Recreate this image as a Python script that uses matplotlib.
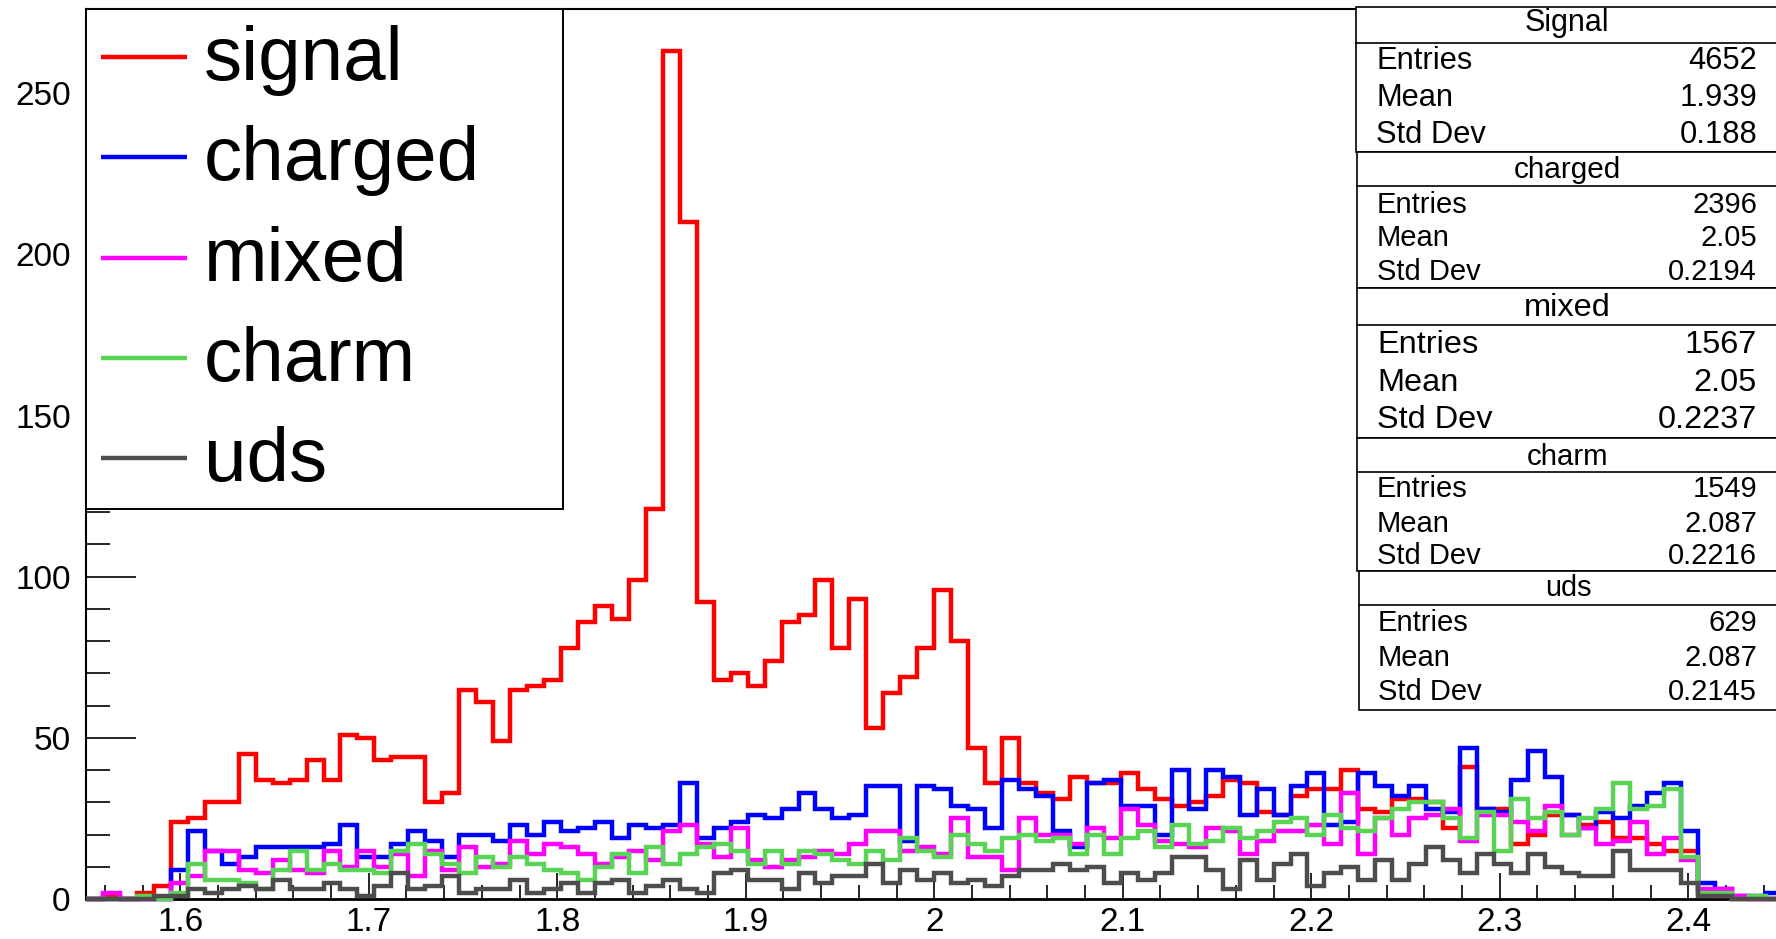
import matplotlib
matplotlib.use("Agg")
import matplotlib.pyplot as plt
import numpy as np
from matplotlib.patches import Rectangle
from matplotlib.lines import Line2D
from matplotlib.ticker import MultipleLocator, FuncFormatter

# ---------------------------------------------------------------- data
x_min, x_max, n_bins = 1.55, 2.45, 100

signal = [0, 1, 0, 2, 4, 24, 25, 30, 30, 45,
          37, 36, 37, 43, 37, 51, 50, 43, 44, 44,
          30, 33, 65, 61, 49, 65, 66, 68, 78, 86,
          91, 87, 99, 121, 263, 210, 92, 68, 70, 66,
          74, 86, 88, 99, 78, 93, 53, 64, 69, 78,
          96, 80, 47, 36, 50, 36, 33, 31, 38, 36,
          36, 39, 34, 31, 29, 30, 32, 37, 36, 27,
          26, 32, 34, 34, 40, 28, 27, 31, 31, 30,
          22, 41, 28, 28, 17, 20, 26, 26, 23, 24,
          19, 19, 17, 15, 15, 2, 1, 0, 0, 0]

charged = [0, 0, 0, 0, 0, 9, 21, 15, 11, 13,
           16, 16, 16, 16, 17, 23, 13, 13, 17, 21,
           18, 13, 20, 20, 18, 23, 20, 24, 21, 22,
           24, 19, 23, 22, 23, 36, 19, 22, 24, 26,
           25, 28, 33, 28, 25, 26, 35, 35, 18, 35,
           34, 29, 28, 22, 37, 34, 32, 21, 16, 36,
           37, 29, 29, 20, 40, 28, 40, 38, 26, 34,
           26, 35, 39, 23, 24, 39, 35, 32, 35, 28,
           27, 47, 28, 27, 37, 46, 38, 26, 22, 27,
           25, 29, 33, 36, 21, 5, 3, 1, 1, 2]

mixed = [0, 2, 0, 0, 0, 5, 7, 15, 15, 9,
         8, 12, 9, 8, 15, 10, 15, 10, 14, 7,
         15, 9, 16, 10, 11, 18, 14, 17, 16, 14,
         11, 13, 15, 12, 21, 23, 17, 13, 22, 12,
         10, 12, 13, 15, 14, 17, 21, 21, 15, 16,
         14, 25, 13, 13, 9, 25, 20, 20, 17, 22,
         19, 28, 23, 18, 17, 16, 22, 21, 14, 18,
         21, 21, 23, 17, 33, 14, 25, 20, 25, 26,
         28, 18, 26, 26, 24, 21, 29, 20, 22, 17,
         18, 24, 14, 19, 12, 3, 3, 1, 0, 0]

charm = [0, 0, 0, 1, 0, 2, 11, 6, 6, 5,
         3, 9, 15, 9, 11, 9, 9, 8, 15, 17,
         14, 11, 8, 13, 10, 13, 11, 9, 8, 6,
         10, 14, 8, 16, 11, 14, 16, 17, 15, 11,
         15, 11, 15, 14, 12, 11, 15, 12, 19, 15,
         13, 20, 17, 15, 19, 20, 18, 19, 14, 20,
         14, 19, 21, 16, 23, 17, 18, 22, 19, 21,
         24, 25, 20, 26, 22, 21, 25, 28, 30, 30,
         25, 19, 27, 15, 31, 25, 27, 20, 25, 28,
         36, 28, 29, 34, 13, 2, 2, 0, 1, 0]

uds = [0, 0, 0, 0, 1, 1, 3, 2, 3, 4,
       3, 6, 3, 3, 5, 3, 1, 4, 8, 3,
       4, 7, 2, 3, 3, 6, 2, 3, 5, 2,
       5, 6, 2, 4, 6, 3, 2, 8, 9, 6,
       6, 3, 8, 5, 7, 7, 11, 5, 9, 6,
       8, 5, 6, 4, 7, 9, 9, 11, 9, 10,
       5, 8, 6, 8, 13, 13, 9, 3, 12, 6,
       11, 14, 4, 8, 10, 6, 12, 6, 11, 16,
       12, 8, 14, 11, 8, 14, 10, 8, 7, 7,
       15, 9, 9, 9, 5, 1, 1, 0, 0, 0]

legend_names = ["signal", "charged", "mixed", "charm", "uds"]
series_colors = ["#ff0000", "#0000ff", "#ff00ff", "#59d454", "#4d4d4d"]

stat_titles = ["Signal", "charged", "mixed", "charm", "uds"]
stat_entries = ["4652", "2396", "1567", "1549", "629"]
stat_means = ["1.939", "2.05", "2.05", "2.087", "2.087"]
stat_stds = ["0.188", "0.2194", "0.2237", "0.2216", "0.2145"]

# ---------------------------------------------------------------- canvas
W, H = 1776, 939
plt.rcParams["font.family"] = ["Liberation Sans", "DejaVu Sans"]
fig = plt.figure(figsize=(W / 100, H / 100), dpi=100)
fig.patch.set_facecolor("white")


def fx(x):
    return x / W


def fy(y):
    return 1 - y / H


ax_left, ax_top, ax_bottom = 86, 9, 899
ax_right = ax_left + (x_max - x_min) / 0.1 * 188.5
ax = fig.add_axes([fx(ax_left), fy(ax_bottom),
                   fx(ax_right) - fx(ax_left), fy(ax_top) - fy(ax_bottom)])

edges = np.linspace(x_min, x_max, n_bins + 1)
for vals, col in zip([signal, charged, mixed, charm, uds], series_colors):
    ax.stairs(vals, edges, baseline=0, color=col, lw=3.2,
              zorder=3, clip_on=False)

ax.set_xlim(x_min, x_max)
ax.set_ylim(0, 1.05 * max(signal))

for side, w in [("left", 1.5), ("bottom", 2.0), ("top", 1.5)]:
    ax.spines[side].set_linewidth(w)
    ax.spines[side].set_color("black")
ax.spines["right"].set_visible(False)

fmt = FuncFormatter(lambda v, p: f"{v:g}")
ax.xaxis.set_major_locator(MultipleLocator(0.1))
ax.xaxis.set_minor_locator(MultipleLocator(0.02))
ax.yaxis.set_major_locator(MultipleLocator(50))
ax.yaxis.set_minor_locator(MultipleLocator(10))
ax.xaxis.set_major_formatter(fmt)
ax.yaxis.set_major_formatter(fmt)

ax.tick_params(axis="x", which="major", direction="in", length=18.7,
               width=1.2, labelsize=24, pad=6.0, top=False)
ax.tick_params(axis="x", which="minor", direction="in", length=10.0,
               width=1.2, top=False)
ax.tick_params(axis="y", which="major", direction="in", length=36,
               width=1.2, labelsize=24, pad=11.0, right=False)
ax.tick_params(axis="y", which="minor", direction="in", length=17.5,
               width=1.2, right=False)

# ---------------------------------------------------------------- legend
leg_l, leg_t, leg_r, leg_b = 86, 9, 563, 508.5
fig.add_artist(Rectangle((fx(leg_l), fy(leg_b)), fx(leg_r) - fx(leg_l),
                         fy(leg_t) - fy(leg_b), transform=fig.transFigure,
                         facecolor="white", edgecolor="black", lw=1.4,
                         zorder=10))
for k, (name, col) in enumerate(zip(legend_names, series_colors)):
    yl = 57 + k * 100.3
    fig.add_artist(Line2D([fx(101), fx(187)], [fy(yl), fy(yl)],
                          transform=fig.transFigure, color=col, lw=3.2,
                          solid_capstyle="butt", zorder=11))
    fig.text(fx(204), fy(yl + 23), name, fontsize=55, va="baseline",
             ha="left", color="black", zorder=11)

# ---------------------------------------------------------------- stat boxes
box_right = 1778
box_lefts = [1356, 1357, 1357, 1357, 1359]
box_tops = [7, 152, 288, 438, 571]
box_lines = [43, 185.5, 325, 472, 605]
box_bottoms = [152, 288, 438, 571, 710]
title_y = [23, 170, 308, 457, 588]
row_y = [[61, 98, 135], [205, 238, 272], [345, 383, 420],
         [489, 524, 556], [623, 658, 692]]
title_sizes = [22, 21.4, 23.4, 21.2, 20.8]
row_sizes = [22.2, 21, 23.4, 21, 21]
label_x = [1376, 1377, 1377, 1377, 1378]
value_x = 1757

for i in range(5):
    l, t, b = box_lefts[i], box_tops[i], box_bottoms[i]
    fig.add_artist(Rectangle((fx(l), fy(b)), fx(box_right) - fx(l),
                             fy(t) - fy(b), transform=fig.transFigure,
                             facecolor="white", edgecolor="black", lw=1.2,
                             zorder=12 + i))
    fig.add_artist(Line2D([fx(l), fx(box_right)],
                          [fy(box_lines[i]), fy(box_lines[i])],
                          transform=fig.transFigure, color="black", lw=1.2,
                          zorder=12 + i))
    fig.text(fx((l + box_right) / 2), fy(title_y[i]), stat_titles[i],
             fontsize=title_sizes[i], ha="center", va="center",
             zorder=12 + i)
    rows = [("Entries", stat_entries[i]), ("Mean", stat_means[i]),
            ("Std Dev", stat_stds[i])]
    for (lab, val), yy in zip(rows, row_y[i]):
        fig.text(fx(label_x[i]), fy(yy), lab, fontsize=row_sizes[i],
                 ha="left", va="center", zorder=12 + i)
        fig.text(fx(value_x), fy(yy), val, fontsize=row_sizes[i],
                 ha="right", va="center", zorder=12 + i)

fig.savefig("out.png", dpi=100, facecolor="white")
